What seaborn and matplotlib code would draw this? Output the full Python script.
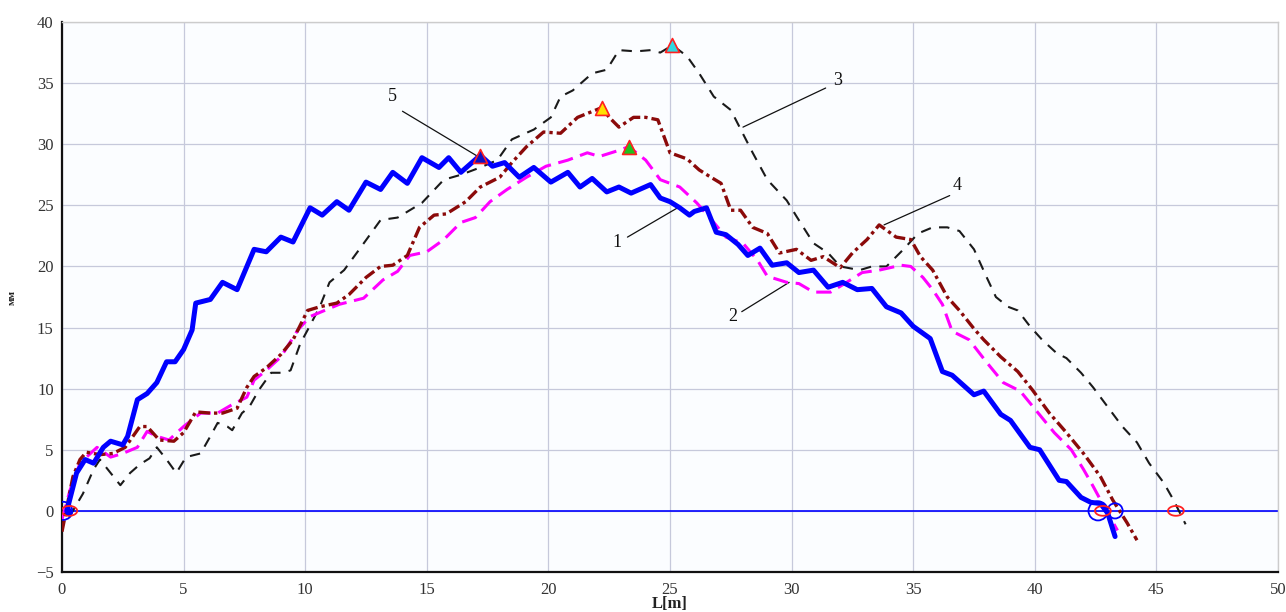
import numpy as np
import pandas as pd
import matplotlib
matplotlib.use("Agg")
import matplotlib.pyplot as plt
import seaborn as sns
from matplotlib.path import Path

# ---------------- data ----------------
x1 = [0.2, 0.6, 0.95, 1.3, 1.7, 2.0, 2.5, 2.7, 3.1, 3.5, 3.9, 4.3, 4.65, 5.0, 5.35, 5.5, 6.1, 6.6, 7.2, 7.9,
      8.4, 9.0, 9.5, 10.2, 10.7, 11.3, 11.8, 12.5, 13.1, 13.6, 14.2, 14.8, 15.5, 15.9, 16.4, 17.2, 17.7, 18.2,
      18.8, 19.4, 20.1, 20.8, 21.3, 21.8, 22.4, 22.9, 23.4, 24.2, 24.6, 25.0, 25.4, 25.8, 26.0, 26.5, 26.9,
      27.3, 27.8, 28.2, 28.7, 29.2, 29.8, 30.3, 30.9, 31.5, 32.1, 32.7, 33.3, 33.9, 34.5, 35.0, 35.7, 36.2,
      36.6, 37.5, 37.9, 38.6, 39.0, 39.8, 40.2, 41.0, 41.3, 41.9, 42.3, 42.7, 43.0, 43.3]
y1 = [0.0, 3.1, 4.2, 3.9, 5.2, 5.7, 5.4, 6.1, 9.1, 9.6, 10.5, 12.2, 12.2, 13.2, 14.8, 17.0, 17.3, 18.7, 18.1, 21.4,
      21.2, 22.4, 22.0, 24.8, 24.2, 25.3, 24.6, 26.9, 26.3, 27.7, 26.8, 28.9, 28.1, 28.9, 27.7, 29.1, 28.2, 28.5,
      27.3, 28.1, 26.9, 27.7, 26.5, 27.2, 26.1, 26.5, 26.0, 26.7, 25.6, 25.3, 24.8, 24.2, 24.5, 24.8, 22.8,
      22.6, 21.8, 20.9, 21.5, 20.1, 20.3, 19.5, 19.7, 18.3, 18.7, 18.1, 18.2, 16.7, 16.2, 15.1, 14.1, 11.4,
      11.1, 9.5, 9.8, 7.9, 7.4, 5.2, 5.0, 2.5, 2.4, 1.1, 0.7, 0.6, -0.2, -2.1]

x2 = [0.0, 0.33, 0.74, 1.44, 2.0, 2.5, 3.1, 3.5, 3.9, 4.4, 5.0, 5.7, 6.4, 7.0, 7.6, 7.9, 8.4, 9.0, 9.7, 10.2,
      11.4, 12.4, 13.2, 13.8, 14.3, 15.0, 15.7, 16.4, 17.0, 17.6, 18.3, 19.1, 19.9, 20.8, 21.6, 22.1, 22.9, 23.3,
      24.0, 24.6, 25.4, 26.1, 26.8, 27.3, 28.0, 28.6, 29.0, 29.8, 30.3, 30.9, 31.6, 32.1, 32.9, 33.6, 34.5,
      34.9, 35.4, 35.8, 36.2, 36.6, 37.3, 38.0, 38.7, 39.4, 40.1, 40.8, 41.5, 42.0, 42.4, 42.7, 43.4]
y2 = [-0.7, 1.7, 3.9, 5.2, 4.4, 4.7, 5.2, 6.5, 6.1, 5.8, 6.9, 8.0, 8.0, 8.7, 9.3, 10.7, 11.5, 12.6, 14.8, 15.9,
      16.9, 17.4, 18.9, 19.6, 20.9, 21.2, 22.2, 23.6, 24.0, 25.3, 26.3, 27.3, 28.2, 28.7, 29.3, 29.0, 29.5, 29.8,
      28.7, 27.1, 26.5, 25.2, 23.6, 22.4, 21.9, 20.5, 19.2, 18.7, 18.6, 17.9, 17.9, 18.5, 19.5, 19.7, 20.1,
      20.0, 19.1, 18.1, 16.9, 14.7, 14.0, 12.2, 10.5, 9.8, 8.1, 6.4, 5.0, 3.4, 2.0, 0.9, -1.6]

x3 = [0.3, 0.86, 1.3, 1.56, 2.0, 2.4, 2.8, 3.2, 3.6, 3.9, 4.3, 4.7, 5.1, 5.7, 6.1, 6.4, 6.8, 7.0, 7.4, 7.7,
      8.1, 8.6, 9.1, 9.4, 9.8, 10.1, 10.6, 11.0, 11.6, 12.3, 13.1, 13.8, 14.3, 14.8, 15.7, 16.4, 17.2, 17.9,
      18.5, 19.4, 20.1, 20.5, 21.0, 21.8, 22.4, 22.9, 23.6, 24.2, 24.6, 25.1, 25.7, 26.2, 26.8, 27.5, 28.4,
      29.0, 29.8, 30.2, 30.9, 31.5, 32.0, 32.8, 33.3, 33.9, 34.6, 35.2, 35.8, 36.4, 36.9, 37.5, 38.0, 38.4,
      38.9, 39.3, 39.8, 40.3, 40.9, 41.3, 41.9, 42.4, 43.0, 43.6, 44.2, 44.7, 45.3, 45.7, 46.2]
y3 = [-0.5, 1.4, 3.4, 4.2, 3.1, 2.1, 3.1, 3.8, 4.3, 5.2, 4.2, 3.1, 4.4, 4.7, 6.1, 7.2, 6.9, 6.6, 8.0, 8.5,
      9.9, 11.3, 11.3, 11.5, 13.7, 14.8, 16.7, 18.7, 19.7, 21.6, 23.8, 24.0, 24.6, 25.2, 27.1, 27.5, 28.1, 28.7,
      30.4, 31.2, 32.2, 33.9, 34.4, 35.8, 36.1, 37.7, 37.6, 37.7, 37.5, 38.1, 37.2, 35.8, 33.9, 32.8, 29.3,
      27.1, 25.4, 24.1, 21.9, 21.1, 20.0, 19.7, 20.0, 20.0, 21.4, 22.7, 23.2, 23.2, 22.9, 21.4, 19.2, 17.5,
      16.7, 16.4, 15.1, 14.0, 12.9, 12.5, 11.3, 10.1, 8.5, 6.9, 5.6, 3.9, 2.3, 0.9, -1.1]

x4 = [0.0, 0.45, 0.74, 1.0, 1.56, 2.1, 2.6, 3.2, 3.5, 4.0, 4.6, 5.0, 5.5, 6.1, 6.6, 7.2, 7.6, 7.9, 8.4, 9.0,
      9.5, 10.1, 10.6, 11.3, 11.8, 12.5, 13.1, 13.6, 14.2, 14.7, 15.3, 15.8, 16.6, 17.2, 18.0, 18.5, 19.1, 19.8,
      20.5, 21.2, 21.7, 22.2, 22.5, 22.9, 23.5, 24.0, 24.5, 25.0, 25.7, 26.2, 26.6, 27.1, 27.5, 27.9, 28.4,
      29.0, 29.5, 30.2, 30.8, 31.3, 32.0, 32.5, 33.1, 33.6, 34.3, 34.9, 35.3, 35.8, 36.4, 36.9, 37.5, 37.9,
      38.6, 39.3, 39.9, 40.6, 41.3, 42.0, 42.7, 43.2, 43.8, 44.2]
y4 = [-1.7, 2.8, 4.2, 4.8, 4.6, 4.7, 5.2, 6.9, 6.9, 5.8, 5.7, 6.4, 8.1, 8.0, 8.0, 8.4, 10.1, 11.0, 11.7, 12.8,
      14.0, 16.4, 16.7, 17.0, 17.7, 19.1, 20.0, 20.1, 20.9, 23.2, 24.2, 24.3, 25.3, 26.5, 27.3, 28.5, 29.8, 31.0,
      30.9, 32.2, 32.6, 33.0, 32.2, 31.4, 32.2, 32.2, 32.0, 29.3, 28.8, 27.9, 27.4, 26.8, 24.6, 24.6, 23.2,
      22.7, 21.1, 21.4, 20.5, 20.8, 19.9, 21.1, 22.2, 23.4, 22.4, 22.2, 20.8, 19.7, 17.5, 16.4, 14.9, 14.0,
      12.6, 11.4, 9.9, 8.0, 6.4, 4.7, 2.8, 0.9, -1.0, -2.4]

zero_x = [0, 50]
zero_y = [0, 0]

peak_x = [17.2, 22.2, 23.3, 25.1]
peak_y = [29.0, 33.0, 29.8, 38.1]
peak_fill = ["#1010c0", "#ffe000", "#20c020", "#30d8e0"]

start_blue_x = [0.05, 42.6, 43.3]
start_red_x = [0.3, 42.8, 45.8]

label_text = ["1", "2", "3", "4", "5"]
label_xytext = [(22.8, 22.0), (27.6, 15.9), (31.9, 35.2), (36.8, 26.6), (13.6, 33.9)]
label_xy = [(25.4, 24.9), (29.9, 18.7), (28.0, 31.4), (33.8, 23.4), (17.1, 29.0)]
label_from = [(23.25, 22.4), (27.95, 16.3), (31.4, 34.6), (36.5, 25.8), (14.0, 32.7)]

xticks = list(range(0, 51, 5))
yticks = list(range(-5, 41, 5))

# ---------------- style ----------------
sns.set_theme(style="whitegrid")
plt.rcParams["font.family"] = ["Liberation Serif", "DejaVu Serif"]

fig = plt.figure(figsize=(12.86, 6.12), dpi=100)
fig.patch.set_facecolor("white")
ax = fig.add_axes([0.0482, 0.0654, 0.9456, 0.8986])
ax.set_facecolor("#fbfdff")

# zero line
sns.lineplot(x=zero_x, y=zero_y, ax=ax, color="#0000ff", linewidth=1.2, zorder=2)

# curves
sns.lineplot(x=x3, y=y3, ax=ax, sort=False, estimator=None, color="#1a1a1a",
             linewidth=1.5, linestyle=(0, (5, 4)), zorder=3)
sns.lineplot(x=x2, y=y2, ax=ax, sort=False, estimator=None, color="#ff00ff",
             linewidth=2.2, linestyle=(0, (5, 2.5)), zorder=4)
sns.lineplot(x=x4, y=y4, ax=ax, sort=False, estimator=None, color="#8b0a0a",
             linewidth=2.4, linestyle=(0, (3.5, 1.2, 1.0, 1.2)), zorder=5)
sns.lineplot(x=x1, y=y1, ax=ax, sort=False, estimator=None, color="#0000ff",
             linewidth=3.6, zorder=6)

# peak triangles
for px, py, pc in zip(peak_x, peak_y, peak_fill):
    sns.scatterplot(x=[px], y=[py], ax=ax, marker="^", s=100, color=pc,
                    edgecolor="#ff2020", linewidth=1.2, zorder=8)

# circles on zero line
t = np.linspace(0, 2 * np.pi, 60)
ell = Path(np.column_stack([np.cos(t), 0.62 * np.sin(t)]), closed=True)
sns.scatterplot(x=start_blue_x, y=[0] * len(start_blue_x), ax=ax, marker="o", s=[170, 190, 120],
                facecolor="none", edgecolor="#0000ff", linewidth=1.3, zorder=9, legend=False)
sns.scatterplot(x=start_red_x, y=[0] * len(start_red_x), ax=ax, marker=ell, s=130,
                facecolor="none", edgecolor="#ff2020", linewidth=1.3, zorder=10)
sns.scatterplot(x=[0.25], y=[0], ax=ax, marker="o", s=30, color="#0000ff", linewidth=0, zorder=11)

# annotations
for txt, xyt, xy, xf in zip(label_text, label_xytext, label_xy, label_from):
    ax.text(xyt[0], xyt[1], txt, fontsize=13, ha="center", va="center", color="#111111")
    ax.annotate("", xy=xy, xytext=xf,
                arrowprops=dict(arrowstyle="-", color="#111111", lw=0.9, shrinkA=0, shrinkB=0))

# axes
ax.set_xlim(0, 50)
ax.set_ylim(-5, 40)
ax.set_xticks(xticks)
ax.set_yticks(yticks)
ax.set_xticklabels([str(v) for v in xticks])
ax.set_yticklabels([("\u2212" + str(-v)) if v < 0 else str(v) for v in yticks])
ax.grid(True, color="#c6c9db", linewidth=0.9)
ax.tick_params(axis="both", direction="in", length=6, width=1.3, colors="#111111",
               labelsize=12, labelcolor="#333333", pad=6)
ax.tick_params(axis="x", pad=7)
for side in ["left", "bottom"]:
    ax.spines[side].set_color("#111111")
    ax.spines[side].set_linewidth(1.6)
for side in ["top", "right"]:
    ax.spines[side].set_color("#cccccc")
    ax.spines[side].set_linewidth(1.0)

ax.set_xlabel("L[m]", fontsize=12, fontweight="bold", labelpad=-1, color="#222222")
ax.set_ylabel("мм", fontsize=8, fontweight="bold", labelpad=14, color="#222222")

fig.savefig("out.png", dpi=100, facecolor="white")
